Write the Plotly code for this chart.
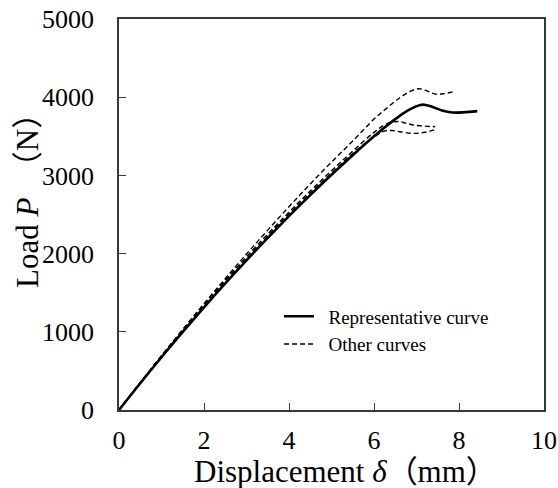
import plotly.graph_objects as go

# Load–displacement curves (displacement in mm, load in N)
rep_x = [0, 0.5, 1.0, 1.5, 2.0, 2.5, 3.0, 3.5, 4.0, 4.5, 5.0, 5.5, 6.0, 6.5, 6.8, 7.0, 7.15, 7.35, 7.6, 7.85, 8.1, 8.43]
rep_y = [0, 342, 675, 998, 1313, 1618, 1914, 2201, 2480, 2748, 3008, 3258, 3500, 3720, 3830, 3885, 3905, 3880, 3830, 3805, 3806, 3822]

other_a_x = [0, 0.5, 1.0, 1.5, 2.0, 2.5, 3.0, 3.5, 4.0, 4.5, 5.0, 5.5, 6.0, 6.3, 6.6, 6.85, 7.05, 7.2, 7.44, 7.65, 7.9]
other_a_y = [0, 350, 695, 1030, 1360, 1680, 1995, 2300, 2600, 2890, 3170, 3440, 3720, 3860, 3990, 4075, 4108, 4090, 4040, 4045, 4075]

other_b_x = [0, 0.5, 1.0, 1.5, 2.0, 2.5, 3.0, 3.5, 4.0, 4.5, 5.0, 5.5, 6.0, 6.3, 6.57, 6.75, 6.92, 7.2, 7.44]
other_b_y = [0, 350, 690, 1025, 1350, 1660, 1960, 2250, 2530, 2800, 3060, 3310, 3550, 3660, 3690, 3668, 3645, 3630, 3623]

other_c_x = [0, 0.5, 1.0, 1.5, 2.0, 2.5, 3.0, 3.5, 4.0, 4.5, 5.0, 5.5, 6.0, 6.26, 6.45, 6.61, 6.92, 7.2, 7.47]
other_c_y = [0, 346, 684, 1012, 1330, 1640, 1935, 2225, 2505, 2775, 3030, 3280, 3490, 3570, 3572, 3559, 3538, 3552, 3590]

x_ticks = [0, 2, 4, 6, 8, 10]
y_ticks = [0, 1000, 2000, 3000, 4000, 5000]

x_title = "Displacement <i>δ</i>（mm）"
y_title = "Load <i>P</i>\u3000（N）"

SERIF = "Liberation Serif, Times New Roman, Noto Sans CJK JP, serif"
NBSP = "\u00a0"
dash_style = dict(color="black", width=1.4, dash="5px,3px")

fig = go.Figure()

others = [(other_a_x, other_a_y), (other_b_x, other_b_y), (other_c_x, other_c_y)]
for i, (xs, ys) in enumerate(others):
    fig.add_trace(go.Scatter(
        x=xs, y=ys, mode="lines", line=dash_style, line_shape="spline",
        name=NBSP * 2 + "Other curves", legendgroup="others", showlegend=(i == 0),
        legendrank=2,
    ))

fig.add_trace(go.Scatter(
    x=rep_x, y=rep_y, mode="lines", line=dict(color="black", width=2.6),
    line_shape="spline", name=NBSP * 2 + "Representative curve", legendrank=1,
))

axis_common = dict(
    showgrid=False, zeroline=False, showline=True, linecolor="#383838",
    linewidth=1.5, mirror=True, ticks="inside", ticklen=7, tickwidth=1.2,
    tickcolor="#383838", tickfont=dict(family=SERIF, size=26, color="black"),
    automargin=False,
)

fig.update_xaxes(
    range=[0, 10], tickvals=x_ticks, ticktext=[str(v) for v in x_ticks],
    ticklabelstandoff=6, **axis_common,
)
fig.update_yaxes(
    range=[0, 5000], tickvals=y_ticks, ticktext=[str(v) for v in y_ticks],
    ticklabelstandoff=18, **axis_common,
)

# Axis titles placed as annotations so their offsets can be set freely
title_font = dict(family=SERIF, size=31, color="black")
fig.add_annotation(
    text=x_title, xref="paper", yref="paper", x=0.532, y=-0.158,
    xanchor="center", yanchor="middle", showarrow=False, font=title_font,
)
fig.add_annotation(
    text=y_title, xref="paper", yref="paper", x=-0.214, y=0.555,
    xanchor="center", yanchor="middle", showarrow=False, font=title_font,
    textangle=-90,
)

fig.update_layout(
    width=558, height=488,
    margin=dict(l=119, r=14, t=19, b=78),
    plot_bgcolor="white", paper_bgcolor="white",
    showlegend=True,
    legend=dict(
        x=0.3765, y=0.288, xanchor="left", yanchor="top",
        bgcolor="rgba(0,0,0,0)", font=dict(family=SERIF, size=19, color="black"),
        itemwidth=30, traceorder="normal", tracegroupgap=0,
    ),
)

fig.write_html("out.html")
